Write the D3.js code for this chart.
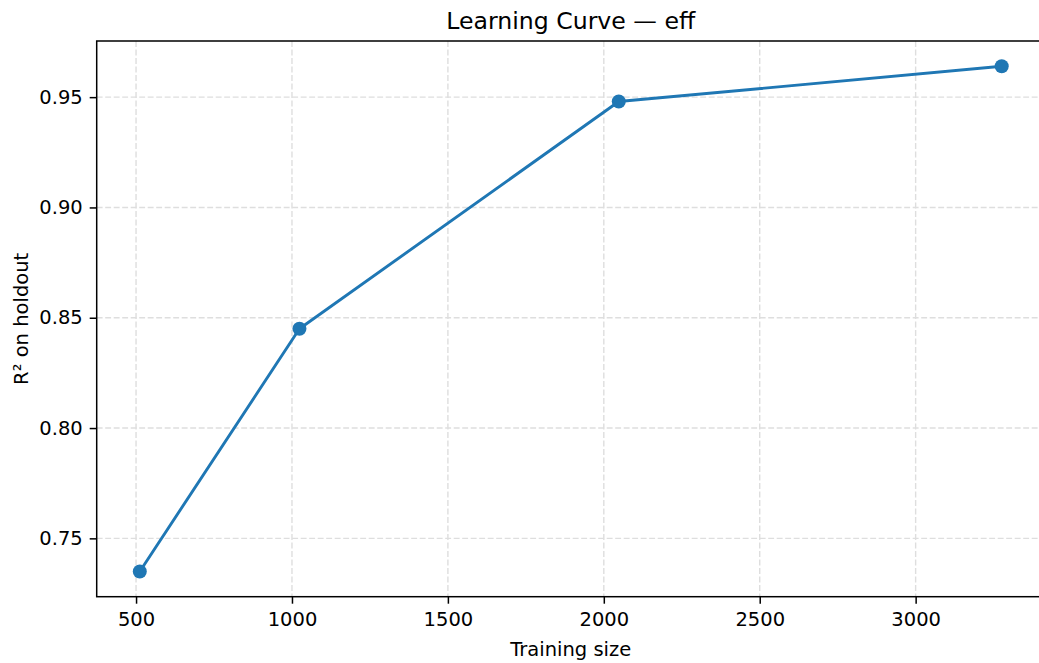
<!DOCTYPE html>
<html>
<head>
<meta charset="utf-8">
<script src="https://cdn.jsdelivr.net/npm/d3@7"></script>
<style>
  html, body { margin: 0; padding: 0; background: #fff; }
  svg { display: block; font-family: "DejaVu Sans", sans-serif; }
</style>
</head>
<body>
<svg id="chart" width="1039" height="663"></svg>
<script>
// Learning curve: holdout R² versus number of training rows
const trainSizes = [512, 1024, 2048, 3276];
const r2Holdout = [0.735, 0.845, 0.948, 0.964];
const xTicks = [500, 1000, 1500, 2000, 2500, 3000];
const yTicks = [0.75, 0.80, 0.85, 0.90, 0.95];

const title = "Learning Curve — eff";
const xLabel = "Training size";
const yLabel = "R² on holdout";

const svg = d3.select("#chart");
const plot = { left: 96.7, right: 1044.8, top: 41, bottom: 596.7 };
const labelSize = "19.5px";

// axis limits padded by 5% of the data range on each side
function padded(vals) {
  const [lo, hi] = d3.extent(vals);
  const m = (hi - lo) * 0.05;
  return [lo - m, hi + m];
}

const x = d3.scaleLinear().domain(padded(trainSizes)).range([plot.left, plot.right]);
const y = d3.scaleLinear().domain(padded(r2Holdout)).range([plot.bottom, plot.top]);

svg.append("clipPath").attr("id", "plotclip")
  .append("rect")
  .attr("x", plot.left).attr("y", plot.top)
  .attr("width", plot.right - plot.left).attr("height", plot.bottom - plot.top);

// dashed grid
const grid = svg.append("g").attr("stroke", "#dedede").attr("stroke-width", 1.4)
  .attr("stroke-dasharray", "5.9,2.6").attr("fill", "none");
grid.selectAll("line.gx").data(xTicks).join("line")
  .attr("x1", d => x(d)).attr("x2", d => x(d))
  .attr("y1", plot.top).attr("y2", plot.bottom);
grid.selectAll("line.gy").data(yTicks).join("line")
  .attr("x1", plot.left).attr("x2", plot.right)
  .attr("y1", d => y(d)).attr("y2", d => y(d));

// series line and markers
const color = "#1f77b4";
const data = trainSizes.map((s, i) => ({ s, v: r2Holdout[i] }));
const series = svg.append("g").attr("clip-path", "url(#plotclip)");
series.append("path")
  .datum(data)
  .attr("fill", "none")
  .attr("stroke", color)
  .attr("stroke-width", 2.9)
  .attr("stroke-linejoin", "round")
  .attr("d", d3.line().x(d => x(d.s)).y(d => y(d.v)));
series.selectAll("circle").data(data).join("circle")
  .attr("cx", d => x(d.s)).attr("cy", d => y(d.v))
  .attr("r", 7).attr("fill", color);

// axes
const xAxis = svg.append("g")
  .attr("transform", `translate(0,${plot.bottom})`)
  .call(d3.axisBottom(x).tickValues(xTicks).tickFormat(d3.format("d")).tickSize(7).tickPadding(7));
const yAxis = svg.append("g")
  .attr("transform", `translate(${plot.left},0)`)
  .call(d3.axisLeft(y).tickValues(yTicks).tickFormat(d3.format(".2f")).tickSize(7).tickPadding(7));

[xAxis, yAxis].forEach(g => {
  g.select(".domain").remove();
  g.selectAll(".tick line").attr("stroke", "#000").attr("stroke-width", 1.5);
  g.selectAll(".tick text")
    .attr("fill", "#000")
    .style("font-family", "'DejaVu Sans', sans-serif")
    .style("font-size", labelSize);
});
xAxis.selectAll(".tick text").attr("dy", "0.78em");

// spines
svg.append("rect")
  .attr("x", plot.left).attr("y", plot.top)
  .attr("width", plot.right - plot.left).attr("height", plot.bottom - plot.top)
  .attr("fill", "none").attr("stroke", "#000").attr("stroke-width", 1.5);

// labels
svg.append("text")
  .attr("x", (plot.left + plot.right) / 2).attr("y", 28.5)
  .attr("text-anchor", "middle")
  .style("font-size", "23.6px")
  .text(title);

svg.append("text")
  .attr("x", (plot.left + plot.right) / 2).attr("y", 656)
  .attr("text-anchor", "middle")
  .style("font-size", labelSize)
  .text(xLabel);

svg.append("text")
  .attr("transform", `translate(27.5,${(plot.top + plot.bottom) / 2}) rotate(-90)`)
  .attr("text-anchor", "middle")
  .style("font-size", labelSize)
  .text(yLabel);
</script>
</body>
</html>
